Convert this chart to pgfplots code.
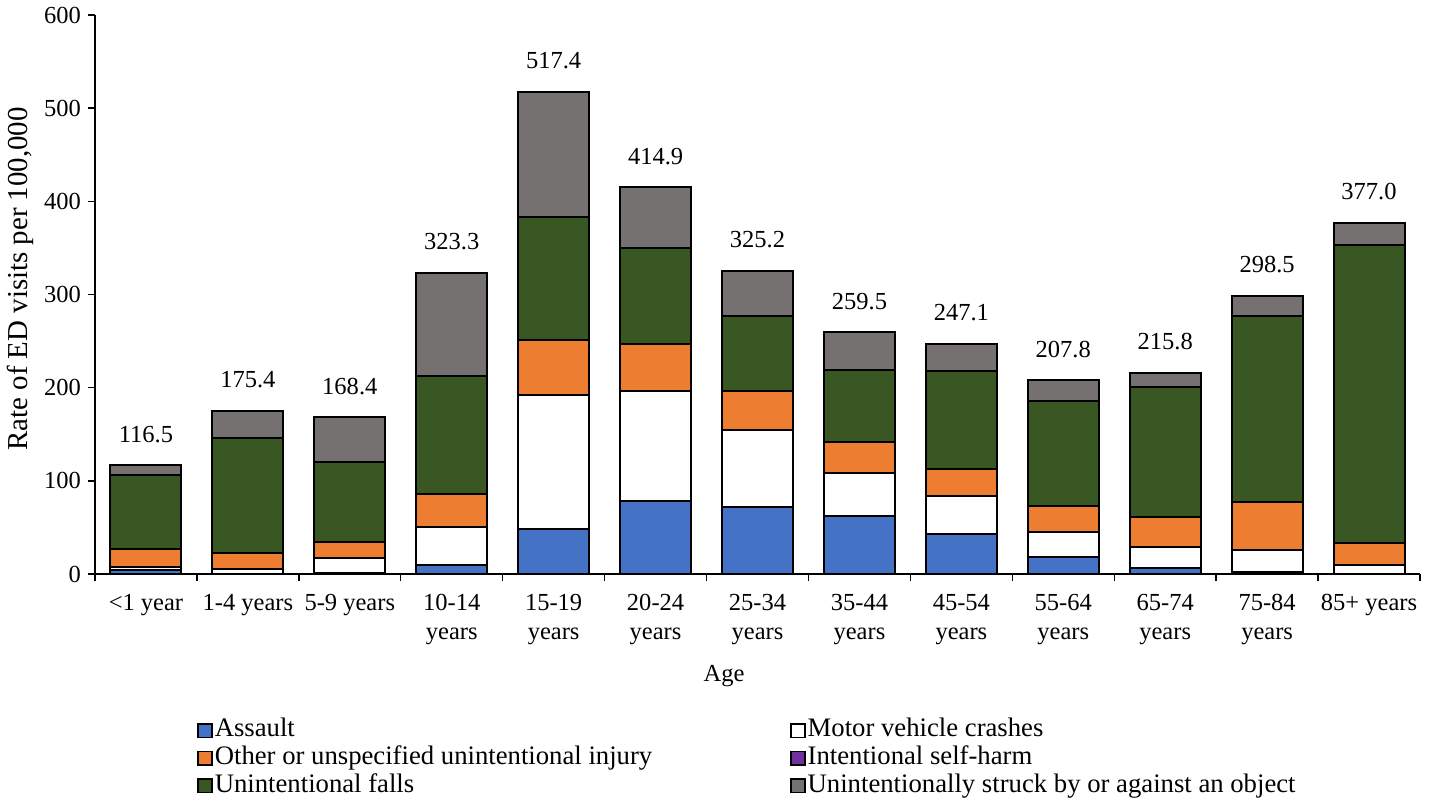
\documentclass[border=0pt]{standalone}
\usepackage{fontspec}
\setmainfont{Liberation Serif}
\usepackage{pgfplots}
\pgfplotsset{compat=1.18}
\usepackage{pgfplotstable}
\definecolor{cA}{HTML}{4472C4}
\definecolor{cO}{HTML}{ED7D31}
\definecolor{cS}{HTML}{7030A0}
\definecolor{cF}{HTML}{385723}
\definecolor{cG}{HTML}{767171}
\pgfplotstableread{
x A M O S F St T
0 4.3 2.9 19.6 0 79.2 10.5 116.5
1 0.5 4.5 17.1 0 123.6 29.7 175.4
2 0.8 16.7 17.1 0 85.7 48.1 168.4
3 9.3 40.7 36.4 0 126.6 110.3 323.3
4 48.2 144.3 59.2 0 131.5 134.2 517.4
5 78.2 118.2 50.0 0 103.2 65.3 414.9
6 72.1 82.2 41.7 0 81.1 48.1 325.2
7 62.5 46.1 33.2 0 77.4 40.3 259.5
8 42.8 40.8 29.2 0 104.7 29.6 247.1
9 18.6 26.0 27.9 0 113.5 21.8 207.8
10 6.4 22.2 32.8 0 139.6 14.8 215.8
11 2.5 23.5 51.5 0 199.6 21.4 298.5
12 0.5 9.5 23.6 0 319.5 23.9 377.0
}\data
\begin{document}
\begin{tikzpicture}
\path[use as bounding box] (-47.5bp,-114.5bp) rectangle (667.5bp,287bp);
\begin{axis}[
  scale only axis,
  width=662.5bp, height=279.5bp,
  ybar stacked,
  bar width=35.5bp,
  xmin=-0.5, xmax=12.5,
  ymin=0, ymax=600,
  ytick={0,100,...,600},
  xtick={0,...,12},
  xticklabels={{<1 year},{1-4 years},{5-9 years},{10-14\\years},{15-19\\years},{20-24\\years},{25-34\\years},{35-44\\years},{45-54\\years},{55-64\\years},{65-74\\years},{75-84\\years},{85+ years}},
  minor xtick={-0.5,0.5,...,12.5},
  major x tick style={draw=none},
  minor x tick style={black, line width=0.7bp},
  major tick length=3.5bp,
  minor tick length=3.5bp,
  tick align=outside,
  ytick style={black, line width=0.7bp},
  axis lines*=left,
  axis line style={black, line width=0.7bp},
  /pgf/number format/assume math mode=true,
  tick label style={font=\fontsize{12.3}{14.5}\selectfont},
  xticklabel style={align=center, yshift=-3bp},
  ylabel={Rate of ED visits per 100,000},
  ylabel style={at={(axis description cs:-0.0566,0.528)}, anchor=center, font=\fontsize{14.5}{16}\selectfont},
  xlabel={Age},
  xlabel style={at={(axis description cs:0.4747,-0.1825)}, anchor=center, font=\fontsize{12.3}{14}\selectfont},
  every axis plot/.append style={draw=black, line width=1bp},
  legend columns=2,
  legend cell align=left,
  legend style={draw=none, fill=none, inner sep=0pt,
    at={(axis description cs:0.077,-0.255)}, anchor=north west,
    font=\fontsize{13.4}{15}\selectfont,
    nodes={text height=9.2bp, text depth=3bp, inner ysep=0.8bp, inner xsep=1.0bp},
    /tikz/every even column/.append style={column sep=68bp}},
  legend image code/.code={\draw[#1, draw=black, line width=0.7bp] (0bp,-3.4bp) rectangle (7bp,3.4bp);},
]
\addplot[fill=cA] table[x=x,y=A]{\data};
\addplot[fill=white] table[x=x,y=M]{\data};
\addplot[fill=cO] table[x=x,y=O]{\data};
\addplot[fill=cS] table[x=x,y=S]{\data};
\addplot[fill=cF] table[x=x,y=F]{\data};
\addplot[fill=cG] table[x=x,y=St]{\data};
\legend{Assault,Motor vehicle crashes,Other or unspecified unintentional injury,Intentional self-harm,Unintentional falls,Unintentionally struck by or against an object}
\end{axis}
\begin{axis}[
  scale only axis,
  width=662.5bp, height=279.5bp,
  xmin=-0.5, xmax=12.5,
  ymin=0, ymax=600,
  hide axis,
  clip=false,
]
\addplot[draw=none, mark=none, nodes near coords, point meta=explicit symbolic,
  every node near coord/.append style={font=\fontsize{12.3}{14}\selectfont, black, anchor=center, yshift=15.5bp}]
  table[x=x,y=T,meta=T]{\data};
\end{axis}
\end{tikzpicture}
\end{document}
